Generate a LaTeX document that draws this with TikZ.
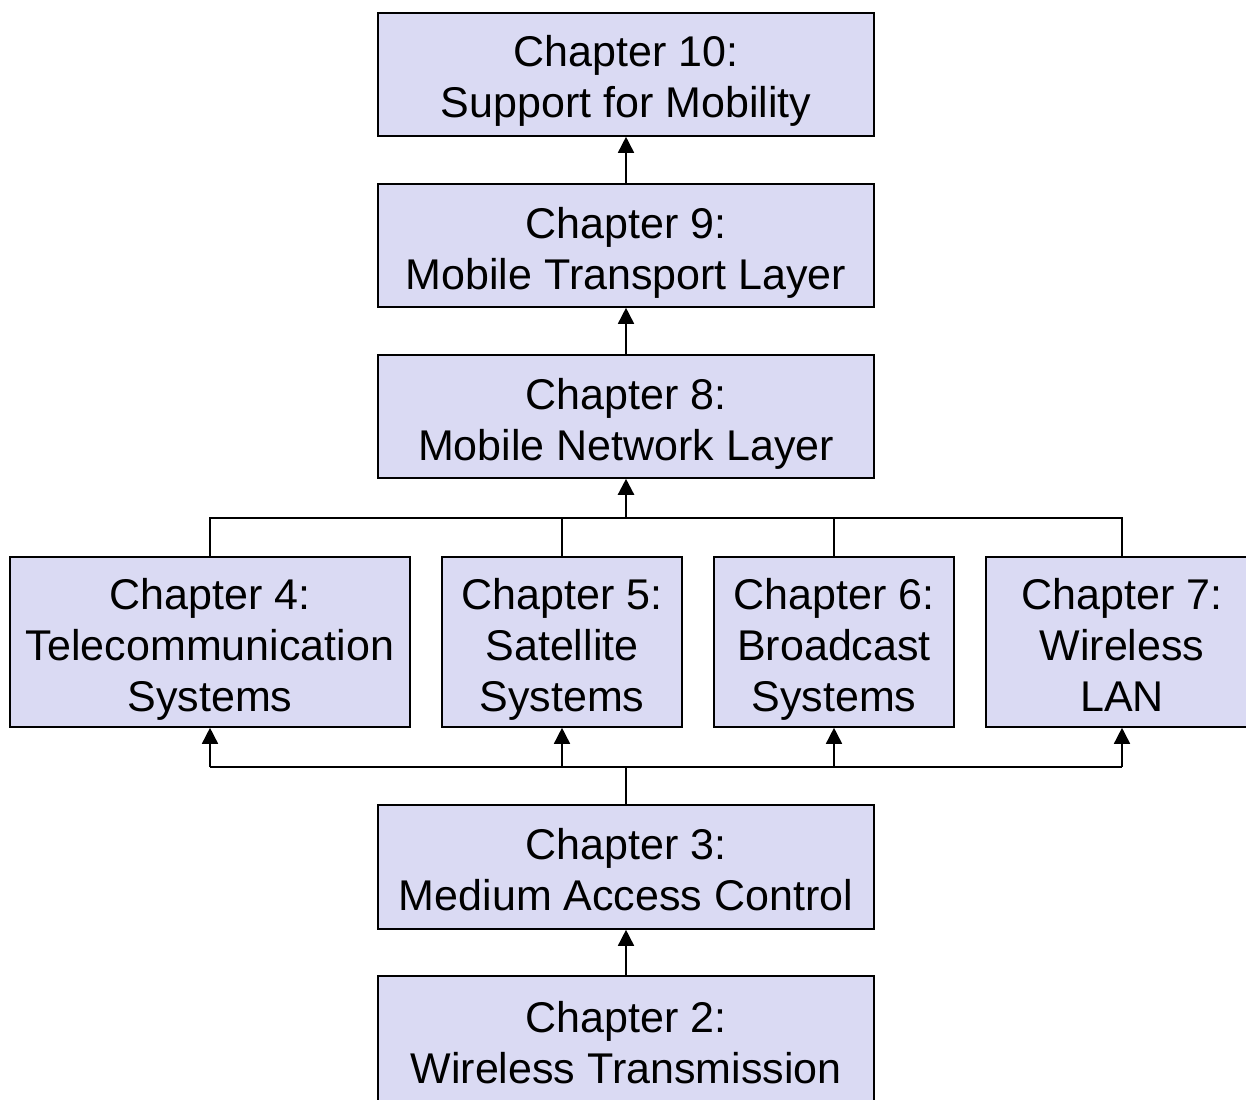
\documentclass[tikz,border=0pt]{standalone}
\usepackage{fontspec}
\setmainfont{Liberation Sans}
\usetikzlibrary{arrows.meta}
\definecolor{boxfill}{RGB}{218,218,243}
\newcommand\tsp{\hspace{0.278em}}
\begin{document}
\begin{tikzpicture}[x=1pt,y=-1pt,
  chapbox/.style={draw=black,line width=1.6pt,fill=boxfill,inner sep=0pt,
    align=center,font=\fontsize{43}{51}\selectfont,minimum height=123pt,minimum width=496pt,
    text height=87pt,text depth=0pt},
  lowbox/.style={chapbox,minimum height=170pt,minimum width=240pt,text height=138pt},
  conn/.style={line width=1.6pt},
  arr/.style={line width=1.6pt,-{Triangle[length=16pt,width=16pt]}}]
\useasboundingbox (0,0) rectangle (1246,1099);
\clip (0,0) rectangle (1246,1099);
\node[chapbox] (c10) at (626,74.5) {Chapter 10:\tsp\\Support for Mobility};
\node[chapbox] (c9) at (626,245.5) {Chapter 9:\tsp\\Mobile Transport Layer};
\node[chapbox] (c8) at (626,416.5) {Chapter 8:\tsp\\Mobile Network Layer};
\node[lowbox,minimum width=400pt] (c4) at (210,642) {Chapter 4:\tsp\\Telecommunication\tsp\\Systems};
\node[lowbox] (c5) at (562,642) {Chapter 5:\tsp\\Satellite\tsp\\Systems};
\node[lowbox] (c6) at (834,642) {Chapter 6:\tsp\\Broadcast\tsp\\Systems};
\node[lowbox,minimum width=272pt] (c7) at (1122,642) {Chapter 7:\tsp\\Wireless\tsp\\LAN};
\node[chapbox,minimum height=124pt] (c3) at (626,867) {Chapter 3:\tsp\\Medium Access Control};
\node[chapbox,minimum height=127pt] (c2) at (626,1039.5) {Chapter 2:\tsp\\Wireless Transmission};
% upper bus
\coordinate (ub) at (626,518);
\draw[conn] (c4.north) |- (c7.north |- ub) -- (c7.north);
\draw[conn] (c5.north) -- (c5.north |- ub);
\draw[conn] (c6.north) -- (c6.north |- ub);
\draw[arr,line width=2.4pt] (ub) -- (c8.south);
% lower bus
\coordinate (lb) at (626,767);
\draw[conn] (c4.south |- lb) -- (c7.south |- lb);
\draw[line width=2.4pt] (c3.north) -- (lb);
\draw[arr] (c4.south |- lb) -- (c4.south);
\draw[arr] (c5.south |- lb) -- (c5.south);
\draw[arr] (c6.south |- lb) -- (c6.south);
\draw[arr] (c7.south |- lb) -- (c7.south);
% vertical chain
\draw[arr] (c9.north) -- (c10.south);
\draw[arr] (c8.north) -- (c9.south);
\draw[arr] (c2.north) -- (c3.south);
\end{tikzpicture}
\end{document}
